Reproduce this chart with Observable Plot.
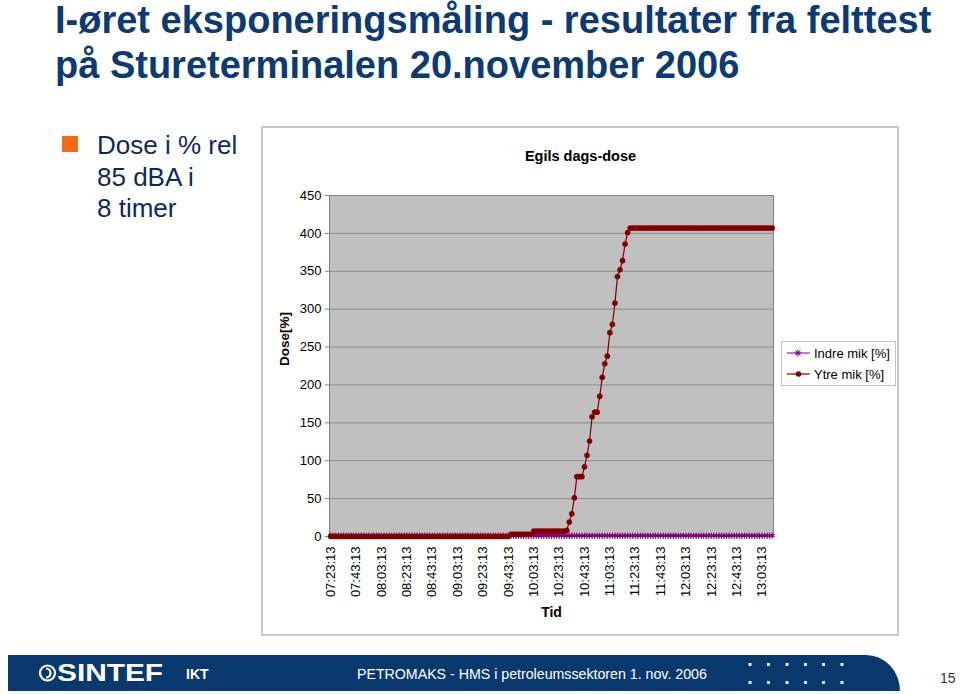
<!DOCTYPE html>
<html>
<head>
<meta charset="utf-8">
<script src="https://cdn.jsdelivr.net/npm/d3@7"></script>
<script src="https://cdn.jsdelivr.net/npm/@observablehq/plot@0.6"></script>
<style>
  html, body { margin:0; padding:0; background:#fff; }
  #page { position:relative; width:960px; height:694px; overflow:hidden; background:#fff; font-family: Arial, "Liberation Sans", sans-serif; }
  #chart { position:absolute; left:262px; top:127px; }
  #overlay { position:absolute; left:0; top:0; pointer-events:none; }
</style>
</head>
<body>
<div id="page">
  <div id="chart"></div>
  <svg id="overlay" width="960" height="694" font-family="Arial, 'Liberation Sans', sans-serif">
    <!-- slide title -->
    <text x="55" y="33" font-size="38" font-weight="bold" fill="#0C3A72">I-øret eksponeringsmåling - resultater fra felttest</text>
    <text x="55" y="78" font-size="38" font-weight="bold" fill="#0C3A72">på Stureterminalen 20.november 2006</text>
    <!-- bullet -->
    <rect x="62" y="136" width="16" height="16" fill="#F46A13"></rect>
    <text x="97" y="154" font-size="26" fill="#0B2A5B">Dose i % rel</text>
    <text x="97" y="186" font-size="26" fill="#0B2A5B">85 dBA i</text>
    <text x="97" y="217" font-size="26" fill="#0B2A5B">8 timer</text>
    <!-- chart box -->
    <rect x="262" y="127" width="636" height="508" fill="none" stroke="#C8C8C8" stroke-width="2"></rect>
    <!-- legend -->
    <g id="legend">
      <rect x="781.5" y="341.5" width="114" height="44" fill="#fff" stroke="#C4C4C4" stroke-width="1"></rect>
      <line x1="787" y1="353" x2="810" y2="353" stroke="#800080" stroke-width="1"></line>
      <path d="M794.5,353H801.5M798,349.5V356.5M795.5,350.5L800.5,355.5M800.5,350.5L795.5,355.5" stroke="#800080" stroke-width="1" fill="none"></path>
      <text x="814" y="357.5" font-size="13" fill="#000">Indre mik [%]</text>
      <line x1="787" y1="374" x2="810" y2="374" stroke="#800000" stroke-width="1.2"></line>
      <circle cx="798.5" cy="374" r="2.8" fill="#800000"></circle>
      <text x="814" y="378.5" font-size="13" fill="#000">Ytre mik [%]</text>
    </g>
    <!-- footer -->
    <path d="M8,655H866A34,36 0 0 1 900,691H8Z" fill="#08386E"></path>
    <circle cx="47.5" cy="673" r="7.5" fill="none" stroke="#fff" stroke-width="2.2"></circle>
    <path d="M46,668.5A4.5,4.5 0 1 1 46,677.5" fill="none" stroke="#fff" stroke-width="2.2"></path>
    <text x="57" y="681" font-size="24" font-weight="bold" fill="#fff" textLength="106" lengthAdjust="spacingAndGlyphs">SINTEF</text>
    <text x="186" y="679" font-size="14" font-weight="bold" fill="#fff">IKT</text>
    <text x="357" y="679" font-size="14.2" fill="#fff">PETROMAKS - HMS i petroleumssektoren 1. nov. 2006</text>
    <g fill="#E8ECF2">
      <rect x="748.5" y="663" width="3" height="3"></rect><rect x="767" y="663" width="3" height="3"></rect>
      <rect x="785.5" y="663" width="3" height="3"></rect><rect x="804" y="663" width="3" height="3"></rect>
      <rect x="822" y="663" width="3" height="3"></rect><rect x="840.5" y="663" width="3" height="3"></rect>
      <rect x="748.5" y="681" width="3" height="3"></rect><rect x="767" y="681" width="3" height="3"></rect>
      <rect x="785.5" y="681" width="3" height="3"></rect><rect x="804" y="681" width="3" height="3"></rect>
      <rect x="822" y="681" width="3" height="3"></rect><rect x="840.5" y="681" width="3" height="3"></rect>
    </g>
    <text x="940" y="683" font-size="14" fill="#333">15</text>
  </svg>
</div>
<script>
// x categories: measurement times (every 2 minutes)
const times = ("07:23:13 07:25:13 07:27:13 07:29:13 07:31:13 07:33:13 07:35:13 07:37:13 07:39:13 07:41:13 " +
  "07:43:13 07:45:13 07:47:13 07:49:13 07:51:13 07:53:13 07:55:13 07:57:13 07:59:13 " +
  "08:01:13 08:03:13 08:05:13 08:07:13 08:09:13 08:11:13 08:13:13 08:15:13 08:17:13 08:19:13 " +
  "08:21:13 08:23:13 08:25:13 08:27:13 08:29:13 08:31:13 08:33:13 08:35:13 08:37:13 08:39:13 " +
  "08:41:13 08:43:13 08:45:13 08:47:13 08:49:13 08:51:13 08:53:13 08:55:13 08:57:13 08:59:13 " +
  "09:01:13 09:03:13 09:05:13 09:07:13 09:09:13 09:11:13 09:13:13 09:15:13 09:17:13 09:19:13 " +
  "09:21:13 09:23:13 09:25:13 09:27:13 09:29:13 09:31:13 09:33:13 09:35:13 09:37:13 09:39:13 " +
  "09:41:13 09:43:13 09:45:13 09:47:13 09:49:13 09:51:13 09:53:13 09:55:13 09:57:13 09:59:13 " +
  "10:01:13 10:03:13 10:05:13 10:07:13 10:09:13 10:11:13 10:13:13 10:15:13 10:17:13 10:19:13 " +
  "10:21:13 10:23:13 10:25:13 10:27:13 10:29:13 10:31:13 10:33:13 10:35:13 10:37:13 10:39:13 " +
  "10:41:13 10:43:13 10:45:13 10:47:13 10:49:13 10:51:13 10:53:13 10:55:13 10:57:13 10:59:13 " +
  "11:01:13 11:03:13 11:05:13 11:07:13 11:09:13 11:11:13 11:13:13 11:15:13 11:17:13 11:19:13 " +
  "11:21:13 11:23:13 11:25:13 11:27:13 11:29:13 11:31:13 11:33:13 11:35:13 11:37:13 11:39:13 " +
  "11:41:13 11:43:13 11:45:13 11:47:13 11:49:13 11:51:13 11:53:13 11:55:13 11:57:13 11:59:13 " +
  "12:01:13 12:03:13 12:05:13 12:07:13 12:09:13 12:11:13 12:13:13 12:15:13 12:17:13 12:19:13 " +
  "12:21:13 12:23:13 12:25:13 12:27:13 12:29:13 12:31:13 12:33:13 12:35:13 12:37:13 12:39:13 " +
  "12:41:13 12:43:13 12:45:13 12:47:13 12:49:13 12:51:13 12:53:13 12:55:13 12:57:13 12:59:13 " +
  "13:01:13 13:03:13 13:05:13 13:07:13 13:09:13 13:11:13").split(" ");

// Ytre mik [%]
const ytre = [
  0,0,0,0,0,0,0,0,0,0, 0,0,0,0,0,0,0,0,0,0, 0,0,0,0,0,0,0,0,0,0,
  0,0,0,0,0,0,0,0,0,0, 0,0,0,0,0,0,0,0,0,0, 0,0,0,0,0,0,0,0,0,0,
  0,0,0,0,0,0,0,0,0,0, 0,
  3,3,3,3,3,3,3,3,3,
  7,7,7,7,7,7,7,7,7,7,7,7,7, 8,
  19,30,51,79,79,79,92,107,126,158,164,164,185,210,228,238,269,280,308,343,352,364,386,401,
  407,407,407,407,407,407,407,407,407,407, 407,407,407,407,407,407,407,407,407,407,
  407,407,407,407,407,407,407,407,407,407, 407,407,407,407,407,407,407,407,407,407,
  407,407,407,407,407,407,407,407,407,407, 407,407,407,407,407,407,407
];

// Indre mik [%]
const indre = [
  1,1,1,1,1,1,1,1,1,1, 1,1,1,1,1,1,1,1,1,1, 1,1,1,1,1,1,1,1,1,1,
  1,1,1,1,1,1,1,1,1,1, 1,1,1,1,1,1,1,1,1,1, 1,1,1,1,1,1,1,1,1,1,
  1,1,1,1,1,1,1,1,1,1, 1,1,1,1,1,1,1,1,1,1, 1,1,1,1,1,1,1,1,1,1,
  1,1,1,1,1,1,1,1,1,1, 1,1,1,1,1,1,1,1,1,1, 1,1,1,1,1,1,1,1,1,1,
  1,1,1,1,1,1,1,1,1,1, 1,1,1,1,1,1,1,1,1,1, 1,1,1,1,1,1,1,1,1,1,
  1,1,1,1,1,1,1,1,1,1, 1,1,1,1,1,1,1,1,1,1, 1,1,1,1,1
];

const tickLabels = ["07:23:13","07:43:13","08:03:13","08:23:13","08:43:13","09:03:13",
  "09:23:13","09:43:13","10:03:13","10:23:13","10:43:13","11:03:13","11:23:13","11:43:13",
  "12:03:13","12:23:13","12:43:13","13:03:13"];
const yTicks = [0,50,100,150,200,250,300,350,400,450];

const data = times.map((t, i) => ({time: t, ytre: ytre[i], indre: indre[i]}));

const chart = Plot.plot({
  width: 636,
  height: 508,
  marginLeft: 67,
  marginRight: 125,
  marginTop: 68,
  marginBottom: 99,
  style: {fontFamily: "Arial, 'Liberation Sans', sans-serif", fontSize: "13px", background: "transparent", overflow: "visible"},
  x: {type: "point", domain: times, padding: 0.5, axis: null},
  y: {domain: [0, 450], axis: null},
  marks: [
    Plot.frame({fill: "#C0C0C0"}),
    Plot.gridY(yTicks, {stroke: "#8C8C8C", strokeOpacity: 1}),
    Plot.frame({stroke: "#808080"}),
    Plot.axisY(yTicks, {tickSize: 4, tickPadding: 4, stroke: "#808080", fill: "#000", fontSize: 13, label: null}),
    Plot.axisX(tickLabels, {tickSize: 0, tickPadding: 10, tickRotate: -90, fill: "#000", fontSize: 13, label: null}),
    Plot.line(data, {x: "time", y: "indre", stroke: "#800080", strokeWidth: 1}),
    Plot.dot(data, {x: "time", y: "indre", symbol: "asterisk", r: 3, stroke: "#800080", strokeWidth: 1}),
    Plot.line(data, {x: "time", y: "ytre", stroke: "#800000", strokeWidth: 1.2}),
    Plot.dot(data, {x: "time", y: "ytre", r: 2.6, fill: "#800000", stroke: "#800000", strokeWidth: 0.5}),
    Plot.text(["Egils dags-dose"], {text: d => d, frameAnchor: "top", dx: 29, dy: -45, fontWeight: "bold", fontSize: 14.5, fill: "#000"}),
    Plot.text(["Dose[%]"], {text: d => d, frameAnchor: "left", dx: -45, rotate: -90, fontWeight: "bold", fontSize: 13.5, fill: "#000"}),
    Plot.text(["Tid"], {text: d => d, frameAnchor: "bottom", dy: 80, fontWeight: "bold", fontSize: 14, fill: "#000"})
  ]
});
document.getElementById("chart").appendChild(chart);
</script>
</body>
</html>
